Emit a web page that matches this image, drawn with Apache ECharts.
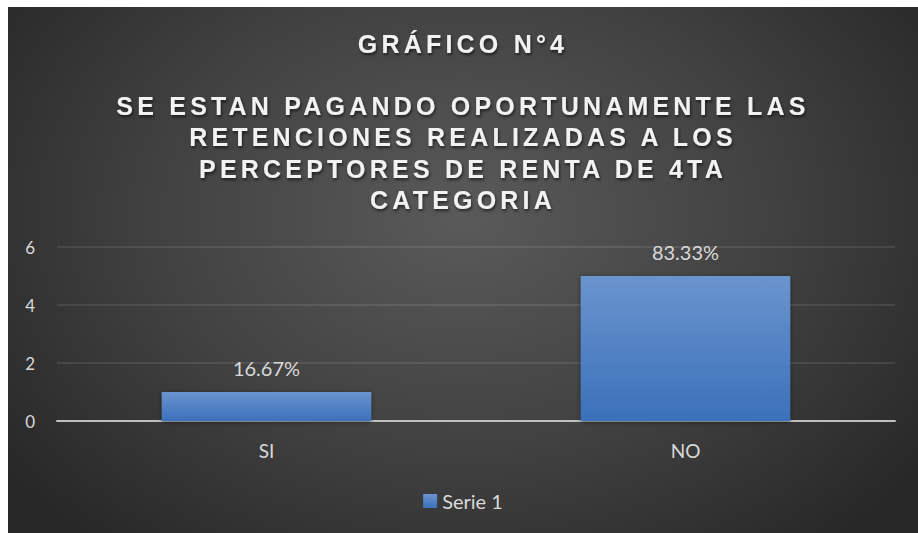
<!DOCTYPE html>
<html>
<head>
<meta charset="utf-8">
<script src="https://cdn.jsdelivr.net/npm/echarts@6/dist/echarts.min.js"></script>
<style>
  body { margin: 0; background: #fff; }
  #chart {
    position: absolute; left: 8px; top: 7px; width: 910px; height: 526px;
    background: radial-gradient(ellipse 62% 80% at 50% 40%, #5a5a5a 0%, #414141 55%, #282828 100%);
  }
  /* title letter spacing (svg renderer) */
  #chart text[style*="25px"] { letter-spacing: 4.2px; }
</style>
</head>
<body>
<div id="chart"></div>
<script>
var categories = ['SI', 'NO'];
var values = [1, 5];
var pctLabels = ['16.67%', '83.33%'];
var seriesName = 'Serie 1';
var titleText = 'GRÁFICO N°4';
var subTitleLines = [
  'SE ESTAN PAGANDO OPORTUNAMENTE LAS',
  'RETENCIONES REALIZADAS A LOS',
  'PERCEPTORES DE RENTA DE 4TA',
  'CATEGORIA'
];

var myChart = echarts.init(document.getElementById('chart'), null, { renderer: 'svg' });

var titleStyle = {
  color: '#f2f2f2',
  fontFamily: 'Liberation Sans, Arial, sans-serif',
  fontWeight: 'bold',
  fontSize: 25,
  textShadowColor: 'rgba(0,0,0,0.6)',
  textShadowBlur: 3,
  textShadowOffsetX: 1,
  textShadowOffsetY: 2
};

var option = {
  backgroundColor: 'transparent',
  animation: false,
  title: [
    {
      text: titleText,
      left: 'center',
      top: 24,
      padding: 0,
      textStyle: Object.assign({ lineHeight: 25 }, titleStyle)
    },
    {
      text: subTitleLines.join('\n'),
      left: 'center',
      top: 83,
      padding: 0,
      textStyle: Object.assign({ lineHeight: 31.5 }, titleStyle)
    }
  ],
  legend: {
    data: [seriesName],
    top: 484,
    left: 'center',
    padding: 0,
    itemWidth: 14,
    itemHeight: 14,
    icon: 'rect',
    itemGap: 5,
    textStyle: { color: '#d9d9d9', fontSize: 20, fontFamily: 'Lato, sans-serif' }
  },
  grid: {
    left: 49,
    right: 23,
    top: 240,
    bottom: 112,
    containLabel: false
  },
  xAxis: {
    type: 'category',
    data: categories,
    axisLine: { lineStyle: { color: '#bfbfbf', width: 2 } },
    axisTick: { show: false },
    axisLabel: { color: '#d9d9d9', fontSize: 19, fontFamily: 'Lato, sans-serif', margin: 20 },
    splitLine: { show: false }
  },
  yAxis: {
    type: 'value',
    min: 0,
    max: 6,
    interval: 2,
    axisLine: { show: false },
    axisTick: { show: false },
    axisLabel: { color: '#d9d9d9', fontSize: 17, fontFamily: 'Lato, sans-serif', margin: 22 },
    splitLine: { lineStyle: { color: 'rgba(255,255,255,0.13)', width: 1.5 } }
  },
  series: [
    {
      name: seriesName,
      type: 'bar',
      barWidth: '50%',
      data: values,
      itemStyle: {
        color: new echarts.graphic.LinearGradient(0, 0, 0, 1, [
          { offset: 0, color: '#6a94cd' },
          { offset: 1, color: '#3b71bb' }
        ]),
        shadowColor: 'rgba(0,0,0,0.5)',
        shadowBlur: 4,
        shadowOffsetY: 1
      },
      label: {
        show: true,
        position: 'top',
        distance: 14,
        color: '#d9d9d9',
        fontSize: 20,
        fontFamily: 'Lato, sans-serif',
        formatter: function (p) { return pctLabels[p.dataIndex]; }
      }
    }
  ]
};

myChart.setOption(option);
</script>
</body>
</html>
